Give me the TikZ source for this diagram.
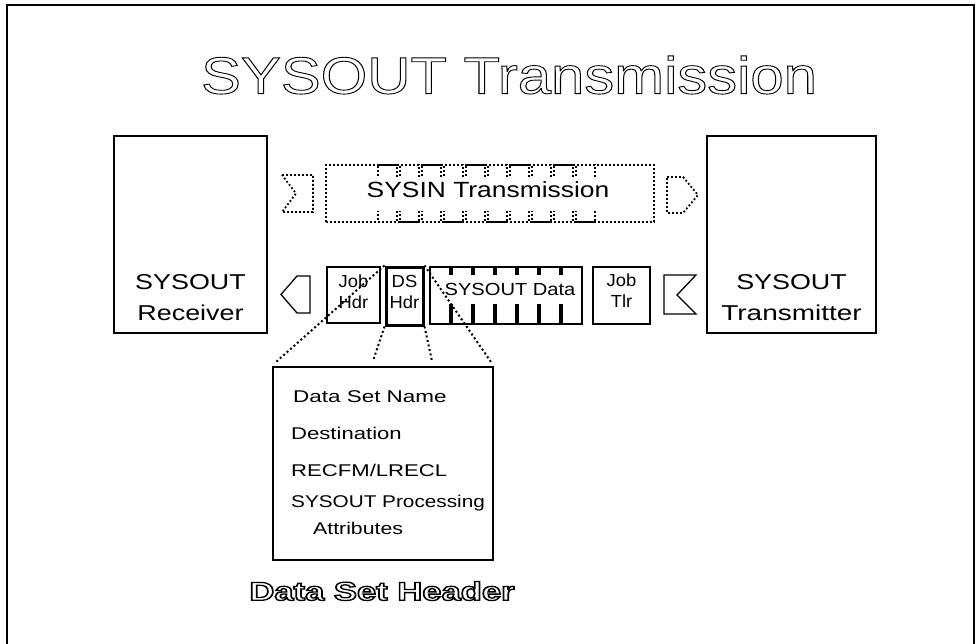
\documentclass[tikz,border=0pt]{standalone}
\usepackage{fontspec}
\setmainfont{Liberation Sans}
\usepackage{graphicx}
\newcommand\sx[2][1.25]{\scalebox{#1}[1]{#2}}
\newcommand\outlined[2]{\special{pdf:literal direct 1 Tr #1 w}#2\special{pdf:literal direct 0 Tr}}
\begin{document}
\begin{tikzpicture}[x=1pt,y=-1pt,
  box/.style={draw, line width=1.4pt, inner sep=0pt},
  dotbox/.style={draw, line width=1.8pt, dash pattern=on 1.8pt off 2.2pt},
  dotline/.style={line width=2pt, dash pattern=on 2pt off 2.6pt},
  bigtxt/.style={inner sep=0pt, align=center, font=\fontsize{21.5}{31}\selectfont},
  midtxt/.style={inner sep=0pt, align=center, font=\fontsize{22}{26}\selectfont},
  smltxt/.style={inner sep=0pt, align=center, font=\fontsize{17.5}{21}\selectfont},
  lsttxt/.style={inner sep=0pt, anchor=west, font=\fontsize{17}{20}\selectfont},
  shapeline/.style={line width=1.3pt, line join=miter}]
\useasboundingbox (0,0) rectangle (976,644);
% frame
\draw[line width=1.6pt] (7,644) -- (7,5) -- (974,5) -- (974,644);
% title
\node[inner sep=0pt, font=\fontsize{52}{60}\selectfont] (title) at (509,75)
  {\sx[1.15]{\outlined{0.9}{SYSOUT Transmission}}};
% end boxes
\node[box, minimum width=153pt, minimum height=197pt] (recv) at (190.5,234.5) {};
\node[bigtxt] (recvtxt) at (190.5,298) {\sx{SYSOUT}\\\sx{Receiver}};
\node[box, minimum width=169pt, minimum height=197pt] (xmit) at (791.5,234.5) {};
\node[bigtxt] (xmittxt) at (791.5,298) {\sx{SYSOUT}\\\sx[1.3]{Transmitter}};
% SYSIN transmission (dotted)
\node[dotbox, minimum width=328pt, minimum height=57pt] (sysin) at (490,193.5) {};
\foreach \i in {0,...,9}
  \node[dotbox, minimum width=19pt, minimum height=57pt] (in\i) at ({387.5+22*\i},193.5) {};
\node[fill=white, minimum width=296pt, minimum height=34pt, inner sep=0pt] (sysinfill) at (490,194) {};
\node[midtxt] (sysintxt) at (488,190) {\sx[1.2]{SYSIN Transmission}};
\draw[dotbox] (282,175) -- (313,175) -- (313,212) -- (282,212) -- (296,193.5) -- cycle;
\draw[dotbox] (667,177) -- (683,177) -- (698,195) -- (683,213) -- (667,213) -- cycle;
% SYSOUT transmission row
\node[box, minimum width=53pt, minimum height=56pt] (jobhdr) at (353.5,295) {};
\node[smltxt] (jobhdrtxt) at (353.5,292) {\sx[1.05]{Job}\\\sx[1.05]{Hdr}};
\foreach \i in {0,...,6}
  \node[box, minimum width=20pt, minimum height=57pt] (rec\i) at ({440+22*\i},295.5) {};
\node[fill=white, minimum width=137pt, minimum height=29pt, inner sep=0pt] (datafill) at (510,289) {};
\node[smltxt] (datatxt) at (510,289) {\sx[1.15]{SYSOUT Data}};
\node[box, line width=3pt, minimum width=37pt, minimum height=58pt] (dshdr) at (404.5,296) {};
\node[smltxt] (dshdrtxt) at (404.5,292) {\sx[1.05]{DS}\\\sx[1.05]{Hdr}};
\node[box, minimum width=57pt, minimum height=57pt] (jobtlr) at (621.5,295.5) {};
\node[smltxt] (jobtlrtxt) at (621.5,291) {\sx[1.05]{Job}\\\sx[1.05]{Tlr}};
\draw[shapeline] (281,294.5) -- (297,276) -- (310,276) -- (310,313) -- (297,313) -- cycle;
\draw[shapeline] (664,275) -- (696,275) -- (677,295) -- (696,314) -- (664,314) -- cycle;
% detail box
\node[box, minimum width=220pt, minimum height=193pt] (detail) at (383,463.5) {};
\node[lsttxt] (l1) at (293,397) {\sx[1.32]{Data Set Name}};
\node[lsttxt] (l2) at (291,433) {\sx[1.3]{Destination}};
\node[lsttxt] (l3) at (291,470) {\sx[1.3]{RECFM/LRECL}};
\node[lsttxt] (l4) at (291,503) {\sx[1.22]{SYSOUT Processing}};
\node[lsttxt] (l5) at (313,528) {\sx[1.25]{Attributes}};
\coordinate (c1) at (276,362);
\coordinate (c2) at (373,361);
\coordinate (c3) at (432,361);
\coordinate (c4) at (491,362);
\draw[dotline] (dshdr.north west) -- (c1);
\draw[dotline] (dshdr.south west) -- (c2);
\draw[dotline] (dshdr.south east) -- (c3);
\draw[dotline] (dshdr.north east) -- (c4);
% caption
\node[inner sep=0pt, font=\bfseries\fontsize{26}{30}\selectfont] (caption) at (382,591)
  {\sx[1.33]{\outlined{1.3}{Data Set Header}}};
\end{tikzpicture}
\end{document}
